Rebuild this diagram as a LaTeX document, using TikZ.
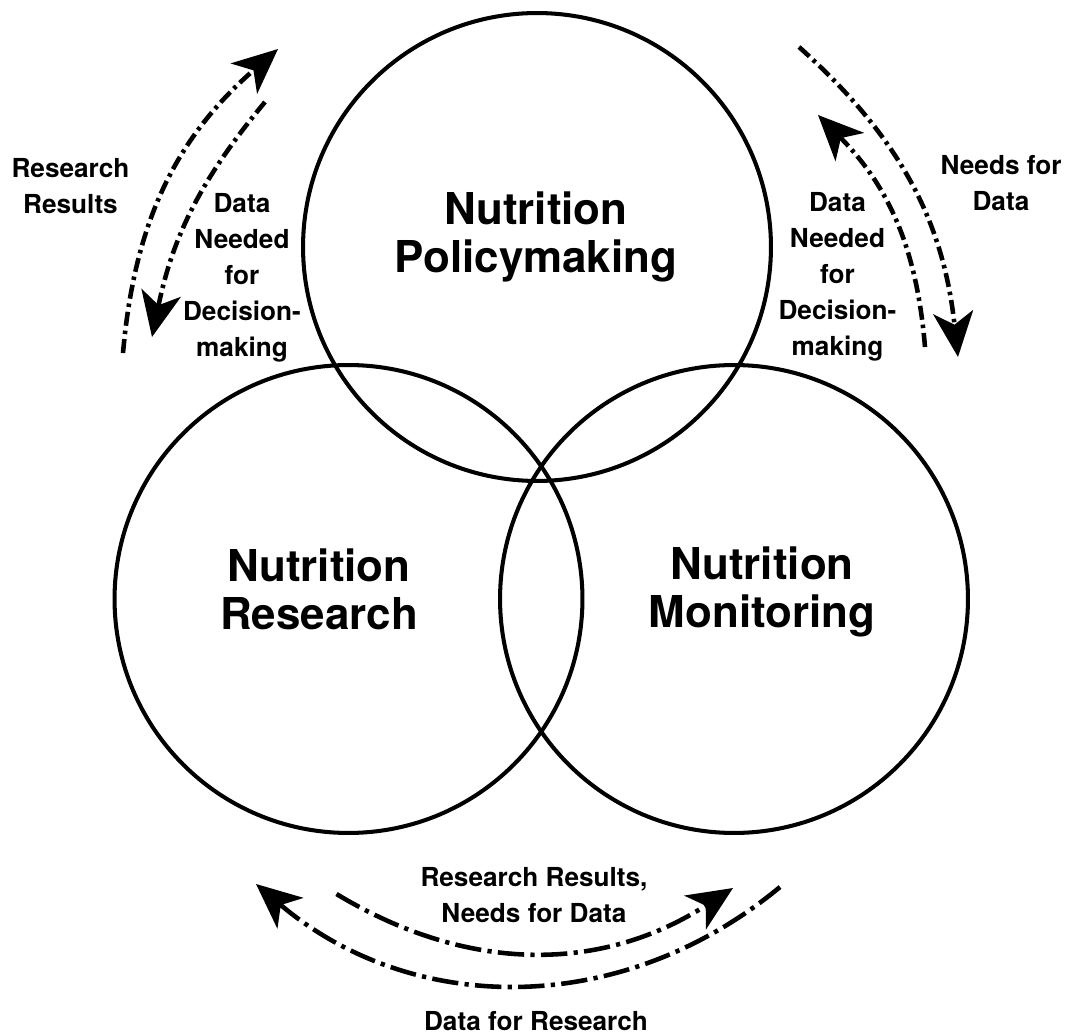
\documentclass[tikz,border=0pt]{standalone}
\usepackage{fontspec}
\setmainfont{TeX Gyre Heros}
\usetikzlibrary{arrows.meta}

\tikzset{
    ring/.style={circle,draw,line width=2.3pt,minimum size=9.36cm,inner sep=0pt},
    bigtext/.style={align=center,font=\fontsize{25}{27.3}\selectfont\bfseries},
    smalltext/.style={align=center,font=\fontsize{14.9}{20.5}\selectfont\bfseries},
    flow/.style={line width=2.6pt,-{Stealth[length=0.9cm,width=0.8cm,inset=0.25cm]}},
    flowside/.style={flow,dash pattern=on 8pt off 2.8pt on 2pt off 2.8pt},
    flowbottom/.style={flow,dash pattern=on 15pt off 3.6pt on 2.4pt off 3.6pt}
}

\begin{document}
\begin{tikzpicture}[x=0.02cm,y=-0.02cm]
    \useasboundingbox (0,0) rectangle (1066,1034);

    % The three overlapping areas
    \node[ring] (policy) at (537,247) {};
    \node[ring] (research) at (348.5,599) {};
    \node[ring] (monitor) at (734,599) {};

    \node[bigtext] (policytext) at (536,237) {Nutrition\\Policymaking};
    \node[bigtext] (researchtext) at (319,589.5) {Nutrition\\Research};
    \node[bigtext] (monitortext) at (762,592) {Nutrition\\Monitoring};

    % Research <-> Policymaking
    \coordinate (rr-start) at (123,353);
    \coordinate (rr-end) at (278,49);
    \coordinate (dl-start) at (265,102);
    \coordinate (dl-end) at (152,337);
    \draw[flowside] (rr-start) to[bend left=22] (rr-end);
    \draw[flowside] (dl-start) to[bend right=14] (dl-end);
    \node[smalltext] (rrlabel) at (70.5,186) {Research\\Results};
    \node[smalltext] (dllabel) at (242,278) {Data\\Needed\\for\\Decision-\\making};

    % Policymaking <-> Monitoring
    \coordinate (nd-start) at (799,47);
    \coordinate (nd-end) at (958,357);
    \coordinate (dr-start) at (925,347);
    \coordinate (dr-end) at (818,115);
    \draw[flowside] (nd-start) to[bend left=21] (nd-end);
    \draw[flowside] (dr-start) to[bend right=20] (dr-end);
    \node[smalltext] (ndlabel) at (1001,183) {Needs for\\Data};
    \node[smalltext] (drlabel) at (837.5,277) {Data\\Needed\\for\\Decision-\\making};

    % Research <-> Monitoring
    \coordinate (rn-start) at (336.5,894);
    \coordinate (rn-end) at (733,888);
    \coordinate (dfr-start) at (780,887);
    \coordinate (dfr-end) at (256,884);
    \draw[flowbottom] (rn-start) to[bend right=32] (rn-end);
    \draw[flowbottom] (dfr-start) to[bend left=40] (dfr-end);
    \node[smalltext] (rnlabel) at (534,895) {Research Results,\\Needs for Data};
    \node[smalltext,anchor=base] (dfrlabel) at (536,1030) {Data for Research};
\end{tikzpicture}
\end{document}
